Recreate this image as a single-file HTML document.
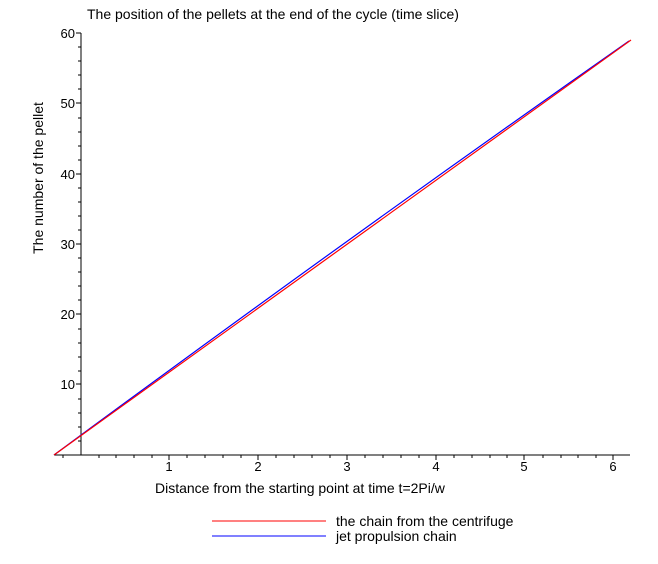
<!DOCTYPE html>
<html><head><style>
body{margin:0;background:#fff;}
svg text{font-family:"Liberation Sans",sans-serif;fill:#000;}
</style></head><body>
<svg width="658" height="559" viewBox="0 0 658 559" xmlns="http://www.w3.org/2000/svg">
<text x="87" y="19" font-size="14">The position of the pellets at the end of the cycle (time slice)</text>
<g stroke="#000" stroke-width="1" shape-rendering="crispEdges">
<line x1="81" y1="33" x2="81" y2="455"/>
<line x1="54" y1="455" x2="630" y2="455"/>
<path d="M63,455v3M99,455v3M116,455v3M134,455v3M152,455v3M169,455v5M187,455v3M205,455v3M223,455v3M241,455v3M258,455v5M276,455v3M294,455v3M312,455v3M330,455v3M347,455v5M365,455v3M383,455v3M401,455v3M419,455v3M436,455v5M454,455v3M472,455v3M490,455v3M507,455v3M524,455v5M543,455v3M561,455v3M578,455v3M596,455v3M613,455v5"/>
<path d="M78,441h3M78,427h3M78,413h3M78,399h3M76,384h5M78,371h3M78,357h3M78,343h3M78,329h3M76,314h5M78,300h3M78,286h3M78,272h3M78,258h3M76,244h5M78,230h3M78,216h3M78,202h3M78,188h3M76,174h5M78,160h3M78,146h3M78,132h3M78,118h3M76,103h5M78,89h3M78,75h3M78,61h3M78,47h3M76,33h5"/>
</g>
<g font-size="13" text-anchor="middle">
<text x="169" y="471">1</text><text x="258" y="471">2</text><text x="347" y="471">3</text>
<text x="436" y="471">4</text><text x="524" y="471">5</text><text x="613" y="471">6</text>
</g>
<g font-size="13" text-anchor="end">
<text x="75" y="389">10</text><text x="75" y="319">20</text><text x="75" y="249">30</text>
<text x="75" y="179">40</text><text x="75" y="108">50</text><text x="75" y="38">60</text>
</g>
<text x="155" y="493" font-size="14">Distance from the starting point at time t=2Pi/w</text>
<text transform="translate(43,178) rotate(-90)" font-size="14" text-anchor="middle">The number of the pellet</text>
<path d="M54,455 Q348,238 629,41" fill="none" stroke="#0000ff" stroke-width="1.2"/>
<line x1="54" y1="455" x2="631" y2="40" stroke="#ff0000" stroke-width="1.2"/>
<line x1="212" y1="521" x2="326" y2="521" stroke="#ff0000"/>
<line x1="212" y1="536" x2="326" y2="536" stroke="#0000ff"/>
<text x="336" y="526" font-size="14">the chain from the centrifuge</text>
<text x="336" y="541" font-size="14">jet propulsion chain</text>
</svg>
</body></html>
